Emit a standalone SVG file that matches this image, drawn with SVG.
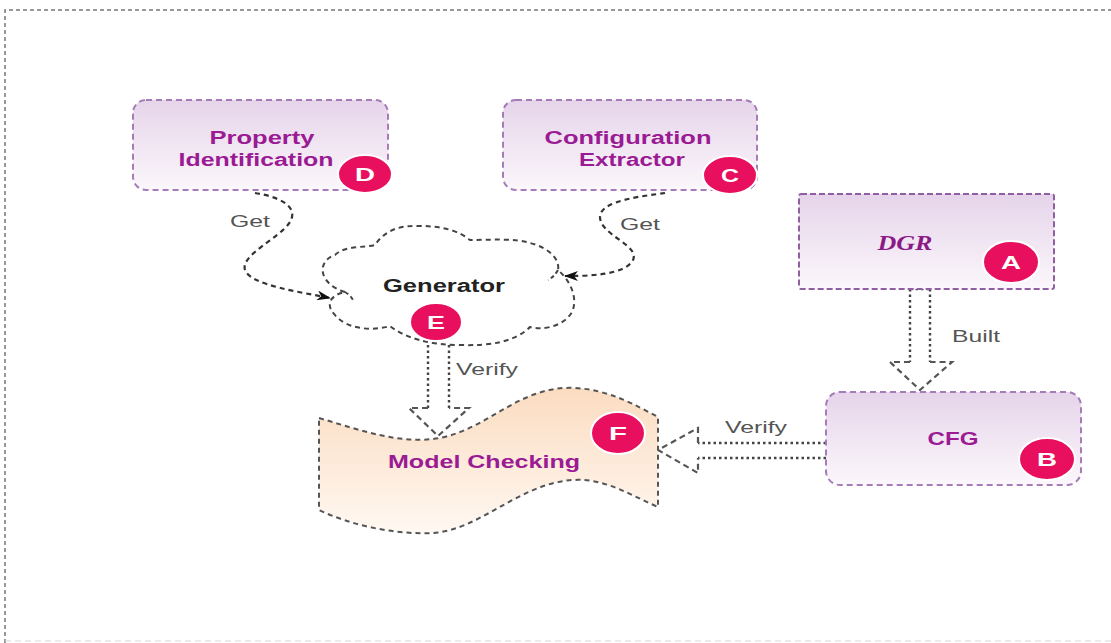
<svg xmlns="http://www.w3.org/2000/svg" width="1111" height="643" viewBox="0 0 1111 643">
<style>
.box{stroke:#a57cb8;stroke-width:2;stroke-dasharray:6 4;fill:url(#gPurple)}
.lbl{font-family:"Liberation Sans",Arial,sans-serif;font-weight:bold;font-size:18px;fill:#9a1b94;text-anchor:middle}
.badge ellipse{fill:#e8105e;stroke:#ffffff;stroke-width:2}
.badge text{font-family:"Liberation Sans",Arial,sans-serif;font-weight:bold;font-size:19px;fill:#ffffff;text-anchor:middle}
.edge{fill:none;stroke:#333;stroke-width:2.2;stroke-dasharray:5 4}
.dot{fill:none;stroke:#444;stroke-width:2.4;stroke-dasharray:2.5 3}
.wing{fill:none;stroke:#555;stroke-width:2.2;stroke-dasharray:6 4}
.elbl{font-family:"Liberation Sans",Arial,sans-serif;font-size:17px;fill:#555;text-anchor:middle}
</style>
<defs>
<linearGradient id="gPurple" x1="0" y1="0" x2="0" y2="1">
<stop offset="0" stop-color="#e6d4ea"/>
<stop offset="1" stop-color="#fbf7fb"/>
</linearGradient>
<linearGradient id="gPeach" x1="0" y1="0" x2="0" y2="1">
<stop offset="0" stop-color="#fbdcc0"/>
<stop offset="1" stop-color="#fff8f2"/>
</linearGradient>
<marker id="arr" viewBox="0 0 14 10" refX="13" refY="5" markerWidth="14" markerHeight="10" markerUnits="userSpaceOnUse" orient="auto">
<path d="M0,0 L14,5 L0,10 L4,5 Z" fill="#111"/>
</marker>
</defs>

<path d="M5,643 V10 H1111" fill="none" stroke="#777" stroke-width="1.5" stroke-dasharray="4 3"/>
<path d="M5,641 H1111" fill="none" stroke="#d8d8d8" stroke-width="1.2" stroke-dasharray="6 4"/>

<g id="connectors">
<path class="edge" d="M255,193 C275,196 300,205 290,222 C280,238 240,255 245,270 C250,285 300,292 330,298" marker-end="url(#arr)"/>
<text class="elbl" x="250" y="227" textLength="40" lengthAdjust="spacingAndGlyphs">Get</text>
<path class="edge" d="M665,193 C645,196 600,200 600,217 C600,235 640,245 633,260 C625,275 590,276 565,276" marker-end="url(#arr)"/>
<text class="elbl" x="640" y="230" textLength="40" lengthAdjust="spacingAndGlyphs">Get</text>

<g id="e-verify1">
<path class="dot" d="M428,345 V408"/>
<path class="dot" d="M449,345 V408"/>
<path class="wing" d="M428,408 H409 L438,436 L469,408 H449"/>
<text class="elbl" x="487" y="375" textLength="62" lengthAdjust="spacingAndGlyphs">Verify</text>
</g>
<g id="e-built">
<path class="dot" d="M910,289 V362"/>
<path class="dot" d="M930,289 V362"/>
<path class="dot" d="M910,289 H930"/>
<path class="wing" d="M910,362 H890 L920,390 L952,362 H930"/>
<text class="elbl" x="976" y="342" textLength="48" lengthAdjust="spacingAndGlyphs">Built</text>
</g>
<g id="e-verify2">
<path class="dot" d="M826,443 H698"/>
<path class="dot" d="M826,458 H698"/>
<path class="wing" d="M698,443 V428 L658,450 L698,473 V458"/>
<text class="elbl" x="756" y="433" textLength="62" lengthAdjust="spacingAndGlyphs">Verify</text>
</g>
</g>

<g id="node-D">
<rect class="box" x="133" y="100" width="255" height="90" rx="13"/>
<text class="lbl" x="262" y="144" textLength="105" lengthAdjust="spacingAndGlyphs">Property</text>
<text class="lbl" x="256" y="166" textLength="155" lengthAdjust="spacingAndGlyphs">Identification</text>
<g class="badge"><ellipse cx="365" cy="174" rx="27" ry="19"/><text x="365" y="181" textLength="20" lengthAdjust="spacingAndGlyphs">D</text></g>
</g>

<g id="node-C">
<rect class="box" x="503" y="100" width="254" height="90" rx="13"/>
<text class="lbl" x="628" y="144" textLength="167" lengthAdjust="spacingAndGlyphs">Configuration</text>
<text class="lbl" x="632" y="166" textLength="106" lengthAdjust="spacingAndGlyphs">Extractor</text>
<g class="badge"><ellipse cx="730" cy="175" rx="27" ry="19"/><text x="730" y="182" textLength="18" lengthAdjust="spacingAndGlyphs">C</text></g>
</g>

<g id="node-A">
<rect x="799" y="194" width="255" height="95" rx="2" fill="url(#gPurple)" stroke="#8f5ea3" stroke-width="2" stroke-dasharray="6 3"/>
<text x="905" y="250" font-family="Liberation Serif,'Times New Roman',serif" font-style="italic" font-weight="bold" font-size="20" fill="#8a1a88" text-anchor="middle" textLength="55" lengthAdjust="spacingAndGlyphs">DGR</text>
<g class="badge"><ellipse cx="1011" cy="262" rx="28" ry="21"/><text x="1011" y="269" textLength="20" lengthAdjust="spacingAndGlyphs">A</text></g>
</g>

<g id="node-B">
<rect class="box" x="826" y="392" width="255" height="93" rx="14"/>
<text class="lbl" x="953" y="445" textLength="51" lengthAdjust="spacingAndGlyphs">CFG</text>
<g class="badge"><ellipse cx="1047" cy="459" rx="28" ry="21"/><text x="1047" y="466" textLength="20" lengthAdjust="spacingAndGlyphs">B</text></g>
</g>

<g id="node-E">
<path d="M345,292 C320,285 315,262 335,255 C345,245 365,248 375,245 C385,230 400,225 420,226 C445,226 460,232 470,240 C490,240 515,238 530,243 C550,248 560,260 558,270 C575,285 578,305 570,315 C560,328 540,330 530,327 C515,342 490,346 460,345 C430,345 405,338 390,326 C370,332 345,328 335,315 C325,305 330,295 345,292 Z" fill="#ffffff" stroke="#444" stroke-width="2" stroke-dasharray="5 4"/>
<path d="M345,292 C350,295 352,298 353,300 M558,270 C555,275 552,278 548,280" fill="none" stroke="#444" stroke-width="2" stroke-dasharray="4 3"/>
<text x="444" y="292" font-family="Liberation Sans,Arial,sans-serif" font-weight="bold" font-size="18" fill="#222" text-anchor="middle" textLength="122" lengthAdjust="spacingAndGlyphs">Generator</text>
<g class="badge"><ellipse cx="436" cy="322" rx="26" ry="19"/><text x="436" y="329" textLength="18" lengthAdjust="spacingAndGlyphs">E</text></g>
</g>

<g id="node-F">
<path d="M319,418 C360,430 400,445 440,438 C490,428 520,385 575,388 C610,390 635,405 658,417 L658,507 C630,495 605,478 573,480 C520,483 480,530 433,533 C395,535 350,525 319,510 Z" fill="url(#gPeach)" stroke="#555" stroke-width="2" stroke-dasharray="5 4"/>
<text class="lbl" x="484" y="468" textLength="192" lengthAdjust="spacingAndGlyphs">Model Checking</text>
<g class="badge"><ellipse cx="618" cy="433" rx="27" ry="21"/><text x="618" y="440" textLength="18" lengthAdjust="spacingAndGlyphs">F</text></g>
</g>
</svg>
